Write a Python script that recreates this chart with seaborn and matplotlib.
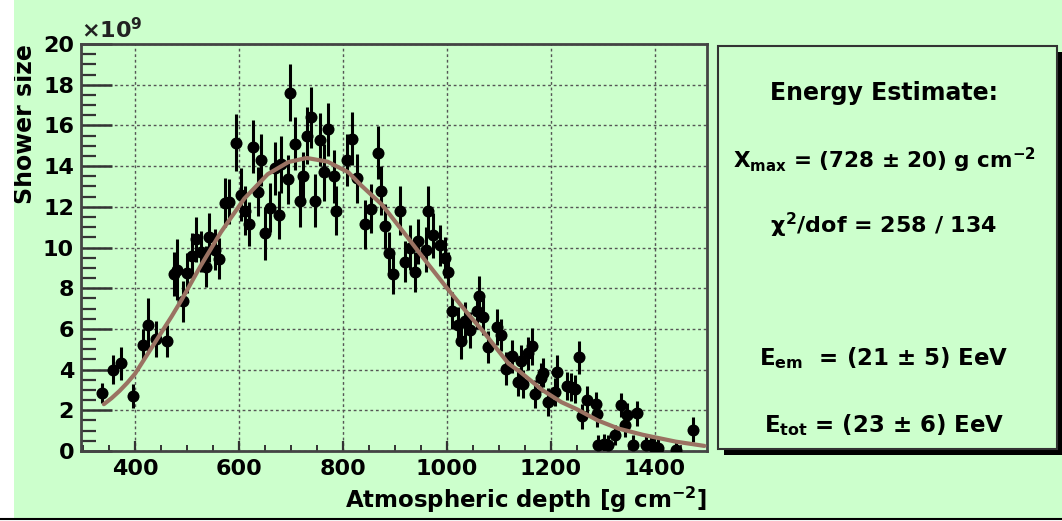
import numpy as np
import pandas as pd
import matplotlib
matplotlib.use("Agg")
import matplotlib.pyplot as plt
from matplotlib.patches import Rectangle
from matplotlib.lines import Line2D
import seaborn as sns

# ---------------- data ----------------
depth = [336, 357, 373, 396, 416, 425, 441, 462, 474, 480, 492, 500,
         509, 517, 527, 537, 542, 553, 562, 573, 580, 595, 603, 612,
         620, 627, 636, 643, 650, 659, 670, 676, 681, 694, 698, 708,
         718, 723, 731, 738, 747, 756, 763, 772, 782, 787, 807, 817,
         827, 842, 853, 867, 873, 881, 889, 896, 909, 920, 928, 938,
         944, 960, 963, 973, 986, 996, 1002, 1010, 1022, 1026, 1034, 1044,
         1057, 1062, 1070, 1078, 1096, 1103, 1113, 1125, 1136, 1142, 1147, 1156,
         1163, 1170, 1180, 1184, 1195, 1208, 1212, 1230, 1238, 1247, 1254, 1260,
         1270, 1286, 1288, 1290, 1302, 1310, 1324, 1334, 1343, 1347, 1357, 1366,
         1383, 1392, 1399, 1405, 1440, 1473]
size = [2.85, 4.0, 4.3, 2.7, 5.2, 6.2, 5.5, 5.4, 8.7, 8.9, 7.35, 8.75,
        9.6, 10.4, 9.8, 9.05, 10.5, 9.9, 9.45, 12.2, 12.25, 15.15, 12.6, 11.8,
        11.15, 14.95, 12.75, 14.3, 10.7, 11.95, 13.9, 11.6, 14.1, 13.35, 17.6, 15.1,
        12.3, 13.5, 15.5, 16.4, 12.3, 15.3, 13.7, 15.8, 13.5, 11.8, 14.3, 15.35,
        13.4, 11.15, 11.9, 14.65, 12.8, 11.05, 9.75, 8.7, 11.8, 9.3, 10.0, 8.8,
        10.3, 9.9, 11.8, 10.6, 10.1, 9.5, 8.8, 6.9, 6.2, 5.4, 6.4, 5.95,
        6.9, 7.6, 6.6, 5.1, 6.1, 5.7, 4.05, 4.65, 3.4, 4.4, 3.3, 4.8,
        5.15, 2.8, 3.6, 3.85, 2.4, 2.9, 3.9, 3.2, 3.15, 3.05, 4.6, 1.7,
        2.5, 2.3, 1.8, 0.3, 0.35, 0.3, 0.8, 2.25, 1.3, 1.75, 0.3, 1.85,
        0.3, 0.3, 0.2, 0.15, 0.05, 1.05]
size_err = [0.5, 0.7, 0.8, 0.6, 0.8, 1.3, 0.9, 0.8, 1.1, 1.5, 1.0, 1.0,
            1.1, 1.1, 1.0, 1.0, 1.2, 1.0, 1.0, 1.2, 1.1, 1.4, 1.3, 1.2,
            1.1, 1.3, 1.2, 1.3, 1.3, 1.2, 1.3, 1.2, 1.4, 1.2, 1.4, 1.3,
            1.3, 1.2, 1.4, 1.5, 1.3, 1.3, 1.4, 1.3, 1.3, 1.2, 1.3, 1.3,
            1.2, 1.2, 1.2, 1.3, 1.2, 1.1, 1.0, 1.0, 1.2, 1.0, 1.1, 1.0,
            1.1, 1.1, 1.2, 1.1, 1.0, 1.0, 1.0, 0.9, 0.9, 0.9, 0.9, 0.9,
            0.9, 1.0, 0.9, 0.8, 0.9, 0.8, 0.8, 0.8, 0.7, 0.8, 0.7, 0.8,
            0.9, 0.7, 0.7, 0.7, 0.7, 0.7, 0.8, 0.7, 0.7, 0.7, 0.8, 0.6,
            0.7, 0.6, 0.6, 0.5, 0.5, 0.5, 0.5, 0.6, 0.6, 0.6, 0.5, 0.6,
            0.5, 0.5, 0.5, 0.5, 0.5, 0.6]

fit_depth = [340, 355, 370, 385, 400, 425, 450, 470, 490, 525, 565, 610,
             655, 695, 730, 770, 810, 835, 875, 918, 957, 1000, 1040, 1070,
             1118, 1140, 1183, 1220, 1250, 1290, 1330, 1376, 1440, 1495]
fit_size = [2.3, 2.6, 2.95, 3.35, 3.8, 4.8, 5.8, 6.6, 7.45, 9.05, 10.75, 12.4,
            13.6, 14.2, 14.4, 14.22, 13.7, 13.05, 12.1, 10.7, 9.4, 8.0, 6.75, 5.86,
            4.3, 3.9, 3.0, 2.4, 2.05, 1.5, 1.1, 0.8, 0.46, 0.25]

x_ticks = [400, 600, 800, 1000, 1200, 1400]
y_ticks = [0, 2, 4, 6, 8, 10, 12, 14, 16, 18, 20]

info_lines = [
    "Energy Estimate:",
    r"X$_{\rm max}$ = (728 $\pm$ 20) g cm$^{-2}$",
    r"$\chi^{2}$/dof = 258 / 134",
    r"E$_{\rm em}$  = (21 $\pm$ 5) EeV",
    r"E$_{\rm tot}$ = (23 $\pm$ 6) EeV",
]
info_sizes = [17, 15.5, 16, 16.5, 16.5]
info_ys = [93, 160, 225, 358, 425]

# ---------------- style ----------------
BG = "#CCFFCC"
sns.set_style("ticks")
plt.rcParams["font.family"] = ["DejaVu Sans"]
plt.rcParams["font.weight"] = "bold"
plt.rcParams["text.color"] = "black"
plt.rcParams["axes.labelcolor"] = "black"
plt.rcParams["xtick.color"] = "black"
plt.rcParams["ytick.color"] = "black"
plt.rcParams["mathtext.fontset"] = "custom"
plt.rcParams["mathtext.rm"] = "DejaVu Sans:bold"
plt.rcParams["mathtext.bf"] = "DejaVu Sans:bold"
plt.rcParams["mathtext.it"] = "DejaVu Sans"

W, H = 1062, 521
fig = plt.figure(figsize=(W / 100, H / 100), dpi=100)
fig.patch.set_facecolor(BG)

def fx(px):
    return px / W

def fy(py):
    return 1 - py / H

# white margins (left strip and bottom strip) with the bottom rule
fig.patches.append(Rectangle((0, 0), fx(14), 1, transform=fig.transFigure,
                             facecolor="white", edgecolor="none", zorder=0))
fig.patches.append(Rectangle((0, 0), 1, fy(519), transform=fig.transFigure,
                             facecolor="white", edgecolor="none", zorder=0))
fig.lines.append(Line2D([0, 1], [fy(519), fy(519)], transform=fig.transFigure,
                        color="black", lw=1.5))

# ---------------- main axes ----------------
ax = fig.add_axes([fx(81), fy(451), fx(707) - fx(81), fy(44) - fy(451)])
ax.set_facecolor(BG)

df = pd.DataFrame({"depth": depth, "size": size, "err": size_err})
fit = pd.DataFrame({"depth": fit_depth, "size": fit_size})

ax.errorbar(df["depth"], df["size"], yerr=df["err"], fmt="none",
            ecolor="black", elinewidth=2.2, capsize=0, zorder=3)
sns.scatterplot(data=df, x="depth", y="size", ax=ax, color="black",
                s=75, edgecolor="black", linewidth=0, zorder=4)
sns.lineplot(data=fit, x="depth", y="size", ax=ax, color="#9A7262",
             lw=3.0, zorder=5, sort=True)

ax.set_xlim(296, 1500)
ax.set_ylim(0, 20)
ax.set_xticks(x_ticks)
ax.set_yticks(y_ticks)
ax.set_xticks(np.arange(300, 1500, 50), minor=True)
ax.set_yticks(np.arange(0, 20.01, 0.5), minor=True)
ax.set_xticklabels([str(v) for v in x_ticks], fontsize=16, fontweight="bold")
ax.set_yticklabels([str(v) for v in y_ticks], fontsize=16, fontweight="bold")

ax.tick_params(axis="y", which="major", direction="in", length=22, width=1.8,
               color="#333333", labelcolor="black", pad=5)
ax.tick_params(axis="y", which="minor", direction="in", length=11, width=1.6,
               color="#333333")
ax.tick_params(axis="x", which="major", direction="in", length=7, width=1.6,
               color="#333333", labelcolor="black", pad=6)
ax.tick_params(axis="x", which="minor", direction="in", length=4, width=1.4,
               color="#333333")

ax.grid(True, which="major", color="#555555", linestyle=(0, (2, 2)), lw=1.0)
for s in ax.spines.values():
    s.set_color("#444444")
    s.set_linewidth(2.0)

ax.set_xlabel("Atmospheric depth [g cm$^{-2}$]", fontsize=16.5,
              fontweight="bold", loc="right", labelpad=4, color="black")
ax.set_ylabel("Shower size", fontsize=17, fontweight="bold", loc="top",
              labelpad=4, color="black")
ax.text(0.0, 1.005, r"$\times$10$^{9}$", transform=ax.transAxes,
        fontsize=16, fontweight="bold", ha="left", va="bottom",
        color="#222222")

# ---------------- info box ----------------
bx0, bx1, by0, by1 = 718, 1057, 46, 449
fig.patches.append(Rectangle((fx(bx0 + 6), fy(by1 + 6)), fx(bx1 - bx0), fy(by0) - fy(by1),
                             transform=fig.transFigure, facecolor="black",
                             edgecolor="none", zorder=1))
fig.patches.append(Rectangle((fx(bx0), fy(by1)), fx(bx1 - bx0), fy(by0) - fy(by1),
                             transform=fig.transFigure, facecolor=BG,
                             edgecolor="#333333", lw=1.5, zorder=2))
cx = fx(884)
for txt, py, fs in zip(info_lines, info_ys, info_sizes):
    fig.text(cx, fy(py), txt, fontsize=fs, fontweight="bold", ha="center",
             va="center", color="black", zorder=3)

fig.savefig("out.png", dpi=100, facecolor=fig.get_facecolor())
